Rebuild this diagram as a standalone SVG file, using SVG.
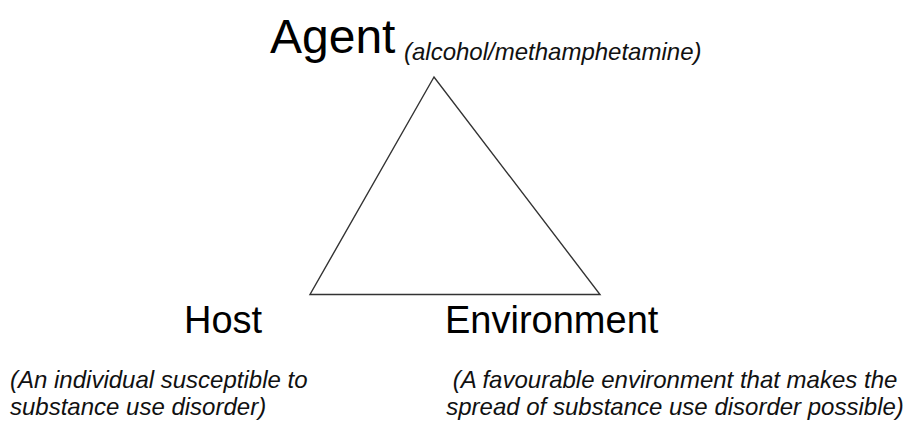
<svg xmlns="http://www.w3.org/2000/svg" width="908" height="421" viewBox="0 0 908 421">
<style>
.title{font-family:"Liberation Sans",Arial,sans-serif;fill:#000}
.desc{font-family:"Liberation Sans",Arial,sans-serif;font-style:italic;font-size:24px;fill:#111}
.edge{fill:none;stroke:#333;stroke-width:1.4}
</style>
<rect width="908" height="421" fill="#fff"/>
<g id="connectors">
<polygon class="edge" points="434,77 310,294.5 600,294.5"/>
</g>
<g id="agent">
<text class="title" x="270" y="53" font-size="48">Agent</text>
<text class="desc" x="404" y="60">(alcohol/methamphetamine)</text>
</g>
<g id="host">
<text class="title" x="184" y="333" font-size="38">Host</text>
<text class="desc" x="10" y="388" font-size="25">(An individual susceptible to</text>
<text class="desc" x="10" y="415" font-size="25">substance use disorder)</text>
</g>
<g id="environment">
<text class="title" x="445" y="333" font-size="38">Environment</text>
<text class="desc" x="675" y="388" text-anchor="middle">(A favourable environment that makes the</text>
<text class="desc" x="675" y="415" text-anchor="middle">spread of substance use disorder possible)</text>
</g>
</svg>
